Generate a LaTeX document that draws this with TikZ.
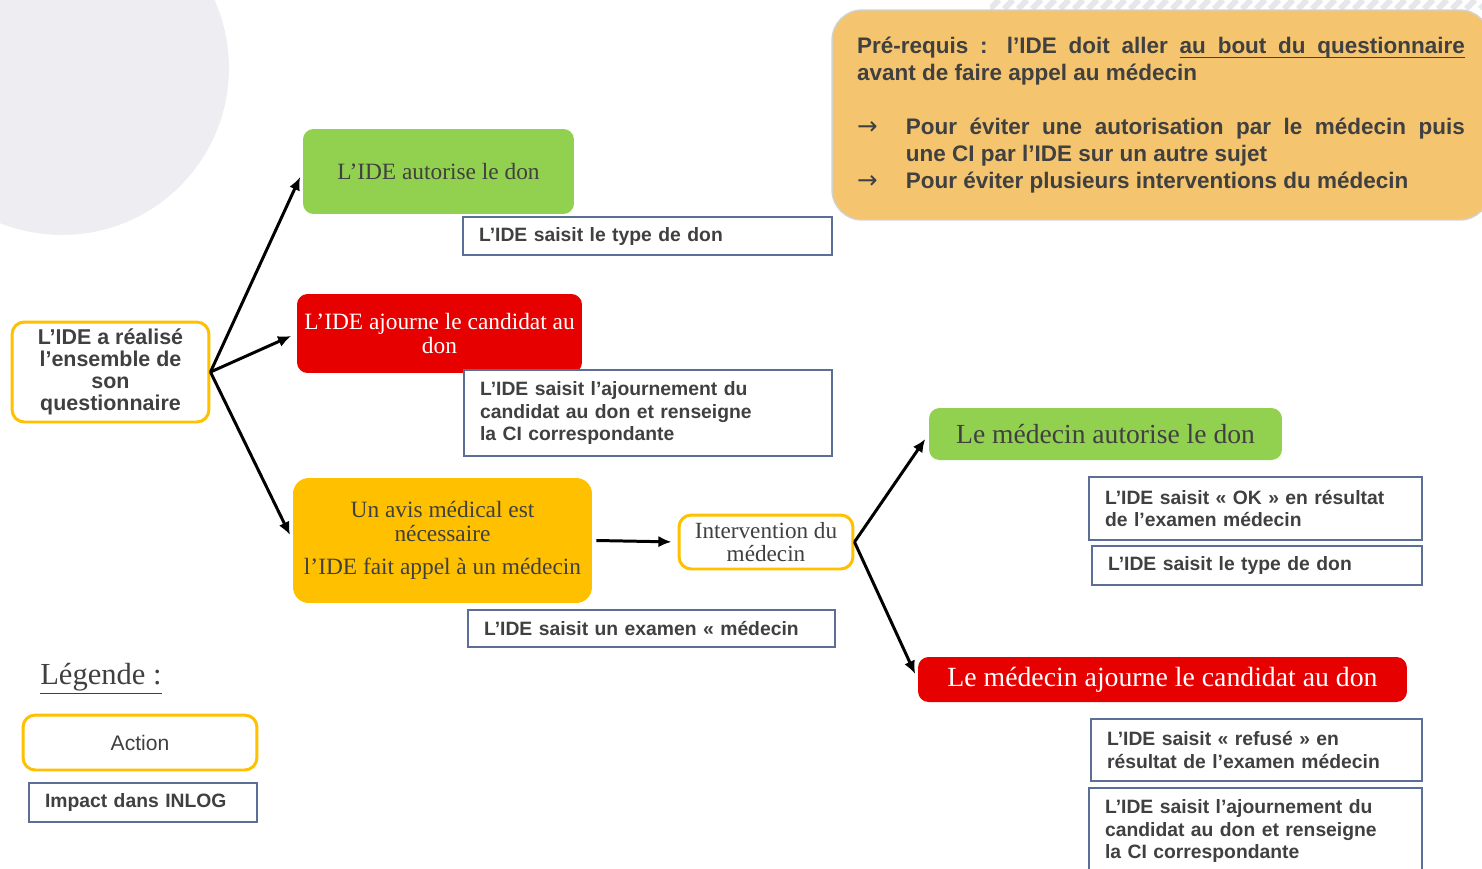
\documentclass[tikz,border=0pt]{standalone}
\usepackage{fontspec}
\setmainfont{Liberation Serif}
\setsansfont{Liberation Sans}
\newfontfamily\arrowfont{DejaVu Sans}
\usepackage{tikz}
\usetikzlibrary{arrows, arrows.meta, calc}

\definecolor{textgray}{HTML}{404040}
\definecolor{actyellow}{HTML}{FFC000}
\definecolor{okgreen}{HTML}{92D050}
\definecolor{nokred}{HTML}{E60000}
\definecolor{inlogblue}{RGB}{90,110,150}
\definecolor{prereqfill}{RGB}{244,196,110}
\definecolor{bgdisc}{RGB}{237,237,242}
\definecolor{stripegray}{RGB}{230,230,237}

% souligne un mot / une espace extensible
\newcommand{\ulword}[1]{\setbox0\hbox{#1}\rlap{\vrule height -1.7pt depth 2.5pt width \wd0}\box0}
\newcommand{\ulspace}{\leaders\vrule height -1.7pt depth 2.5pt\hskip\fontdimen2\font plus\fontdimen3\font minus\fontdimen4\font\relax}
\newcommand{\itemarrow}{\makebox[27.8pt][l]{\arrowfont\mdseries\fontsize{14}{14}\selectfont →}}

\tikzset{
  actionbox/.style={draw=actyellow, line width=1.7pt, rounded corners=7pt, fill=white, align=center, text=textgray, inner sep=0pt},
  inlogbox/.style={draw=inlogblue, line width=0.8pt, fill=white, align=left, text=textgray, inner xsep=0.32cm, inner ysep=0pt, font=\sffamily\bfseries\fontsize{11}{13}\selectfont},
  decision/.style={rounded corners=6pt, align=center, inner sep=0pt, font=\rmfamily\fontsize{13.3}{13.5}\selectfont},
  flow/.style={-{Latex[length=7.5pt,width=6.5pt]}, line width=1.7pt, shorten >=0.12cm}
}

\begin{document}
\begin{tikzpicture}[x=0.02cm, y=-0.02cm]
\useasboundingbox (0,0) rectangle (1482,869);

% decor
\fill[bgdisc] (62,68) circle[radius=3.34cm];
\begin{scope}
\clip (990,0) rectangle (1482,9);
\foreach \s in {976,990,...,1496} \draw[stripegray, line width=3.4pt] (\s,9) -- (\s+9,0);
\end{scope}

% pre-requis
\node[fill=prereqfill, draw=gray!35, line width=0.8pt, rounded corners=0.6cm, text width=12.16cm, minimum height=4.2cm, inner xsep=0.5cm, align=justify, text=textgray, font=\sffamily\bfseries\fontsize{12.8}{15.3}\selectfont] (prereq) at (1161,115)
{Pré-requis : l’IDE doit aller \ulword{au}\ulspace\ulword{bout}\ulspace\ulword{du}\ulspace\ulword{questionnaire}\linebreak avant de faire appel au médecin\par
\vspace{15.3pt}
\hangindent=27.8pt\hangafter=1\noindent\itemarrow Pour éviter une autorisation par le médecin puis\linebreak une CI par l’IDE sur un autre sujet\par
\hangindent=27.8pt\hangafter=1\noindent\itemarrow Pour éviter plusieurs interventions du médecin};

% depart
\node[actionbox, minimum width=3.94cm, minimum height=2cm, font=\sffamily\bfseries\fontsize{12.2}{12.5}\selectfont] (start) at (110.5,372) {L’IDE a réalisé\\l’ensemble de\\son\\questionnaire};

% branche IDE
\node[decision, fill=okgreen, text=textgray, minimum width=5.42cm, minimum height=1.7cm] (ideok) at (438.5,171.5) {L’IDE autorise le don};
\node[inlogbox, text width=6.74cm, minimum height=0.76cm] (type1) at (647.5,236) {L’IDE saisit le type de don};

\node[decision, fill=nokred, text=white, minimum width=5.7cm, minimum height=1.58cm] (idenok) at (439.5,333.5) {L’IDE ajourne le candidat au\\don};
\node[inlogbox, text width=6.72cm, minimum height=1.72cm] (ajourn1) at (648,413) {L’IDE saisit l’ajournement du\\candidat au don et renseigne\\la CI correspondante};

\node[decision, fill=actyellow, text=textgray, rounded corners=9pt, minimum width=5.98cm, minimum height=2.5cm] (avis) at (442.5,540.5) {Un avis médical est\\nécessaire\\[5.7pt]l’IDE fait appel à un médecin};
\node[inlogbox, text width=6.70cm, minimum height=0.74cm] (examen) at (651.5,628.5) {L’IDE saisit un examen « médecin};

% branche medecin
\node[actionbox, font=\rmfamily\fontsize{13.2}{13}\selectfont, minimum width=3.48cm, minimum height=1.08cm] (interv) at (766,542) {Intervention du\\médecin};

\node[decision, fill=okgreen, text=textgray, font=\rmfamily\fontsize{15.7}{16}\selectfont, minimum width=7.06cm, minimum height=1.04cm] (medok) at (1105.5,434) {Le médecin autorise le don};
\node[inlogbox, text width=6.02cm, minimum height=1.26cm] (okres) at (1255.5,508.5) {L’IDE saisit « OK » en résultat\\de l’examen médecin};
\node[inlogbox, text width=5.96cm, minimum height=0.78cm] (type2) at (1257,565.5) {L’IDE saisit le type de don};

\node[decision, fill=nokred, text=white, font=\rmfamily\fontsize{15.8}{16}\selectfont, minimum width=9.78cm, minimum height=0.9cm] (mednok) at (1162.5,679.5) {Le médecin ajourne le candidat au don};
\node[inlogbox, text width=5.98cm, minimum height=1.24cm] (refus) at (1256.5,750) {L’IDE saisit « refusé » en\\résultat de l’examen médecin};
\node[inlogbox, text width=6.02cm, minimum height=1.72cm] (ajourn2) at (1255.5,831) {L’IDE saisit l’ajournement du\\candidat au don et renseigne\\la CI correspondante};

% fleches
\draw[flow] (start.east) -- (ideok.west);
\draw[flow] (start.east) -- (idenok.west);
\draw[flow] (start.east) -- (avis.west);
\draw[flow] ([xshift=0.08cm]avis.east) -- (interv.west);
\draw[flow] (interv.east) -- (medok.west);
\draw[flow] (interv.east) -- (mednok.west);

% legende
\node[text=textgray, font=\rmfamily\fontsize{17.4}{18}\selectfont, inner sep=0pt] (legende) at (101,679) {\underline{Légende :}};
\node[actionbox, font=\sffamily\fontsize{12}{13}\selectfont, minimum width=4.68cm, minimum height=1.1cm] (action) at (140,742.5) {Action};
\node[inlogbox, text width=3.92cm, minimum height=0.78cm] (impact) at (143,802.5) {Impact dans INLOG};
\end{tikzpicture}
\end{document}
